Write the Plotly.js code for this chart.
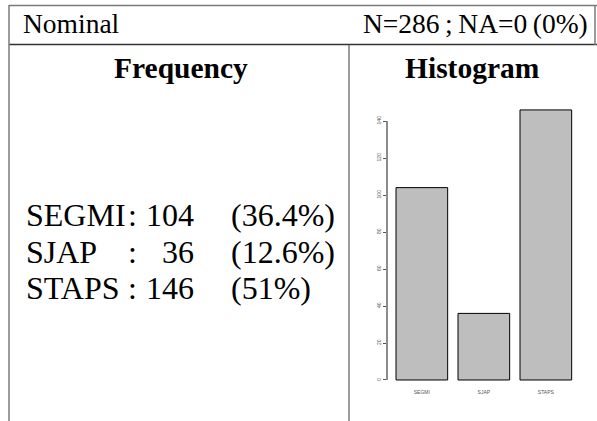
<!DOCTYPE html>
<html>
<head>
<meta charset="utf-8">
<script src="https://cdn.plot.ly/plotly-3.0.1.min.js"></script>
<style>html,body{margin:0;padding:0;background:#fff}#chart{width:597px;height:421px}</style>
</head>
<body>
<div id="chart"></div>
<script>
const categories = ["SEGMI", "SJAP", "STAPS"];
const counts = [104, 36, 146];
const pctLabels = ["(36.4%)", "(12.6%)", "(51%)"];
const yTicks = [0, 20, 40, 60, 80, 100, 120, 140];
const headerLeft = "Nominal";
const headerRight = "N=286\u2009;\u2009NA=0\u2009(0%)";
const colTitles = ["Frequency", "Histogram"];

const W = 597, H = 421;
const px = x => x / W;
const py = y => 1 - y / H;
const serif = "Liberation Serif";
const sans = "Liberation Sans";

const lineGrey = {color: "#7a7a7a", width: 1.5};
const shapes = [
  {type: "line", xref: "paper", yref: "paper", x0: px(9), x1: px(597), y0: py(5.5), y1: py(5.5), line: lineGrey},
  {type: "line", xref: "paper", yref: "paper", x0: px(9), x1: px(597), y0: py(44.5), y1: py(44.5), line: {color: "#333", width: 1.5}},
  {type: "line", xref: "paper", yref: "paper", x0: px(9), x1: px(9), y0: py(5), y1: py(421), line: lineGrey},
  {type: "line", xref: "paper", yref: "paper", x0: px(595), x1: px(595), y0: py(5), y1: py(45), line: lineGrey},
  {type: "line", xref: "paper", yref: "paper", x0: px(349), x1: px(349), y0: py(45), y1: py(421), line: lineGrey},
  {type: "line", xref: "paper", yref: "y", x0: px(387), x1: px(387), y0: yTicks[0], y1: yTicks[yTicks.length - 1], line: {color: "#666", width: 1.5}}
];

const ann = [];
function t(text, x, y, size, xanchor, bold) {
  ann.push({text: bold ? "<b>" + text + "</b>" : text, xref: "paper", yref: "paper",
    x: px(x), y: py(y), xanchor: xanchor, yanchor: "middle", showarrow: false,
    font: {family: serif, size: size, color: "#000"}});
}
t(headerLeft, 21, 24, 27.5, "left");
t(headerRight, 590, 24, 27.5, "right");
t(colTitles[0], 181, 68, 29.5, "center", true);
t(colTitles[1], 472, 68, 29.5, "center", true);
const rowY = [215, 251.5, 288];
categories.forEach((c, i) => {
  t(c, 24, rowY[i], 32, "left");
  t(":", 132, rowY[i], 32, "center");
  t(String(counts[i]), 196, rowY[i], 32, "right");
  t(pctLabels[i], 229, rowY[i], 32, "left");
});

const trace = {
  type: "bar", x: categories, y: counts,
  marker: {color: "#bebebe", line: {color: "#000", width: 1}},
  hoverinfo: "none"
};

const layout = {
  width: W, height: H,
  margin: {l: 0, r: 0, t: 0, b: 0},
  paper_bgcolor: "#fff", plot_bgcolor: "#fff",
  showlegend: false,
  bargap: 1 / 6,
  xaxis: {
    domain: [px(387), px(579)], range: [-0.562, 2.535],
    type: "category", showgrid: false, zeroline: false, showline: false,
    ticks: "", ticklabelstandoff: -3,
    tickfont: {family: sans, size: 5, color: "#555"},
    fixedrange: true
  },
  yaxis: {
    domain: [py(391), py(99)], range: [-5.95, 151.9],
    tickvals: yTicks, ticktext: yTicks.map(String), tickangle: -90,
    showgrid: false, zeroline: false, showline: false,
    ticks: "outside", ticklen: 3, tickwidth: 1, tickcolor: "#555",
    tickfont: {family: sans, size: 5, color: "#555"},
    fixedrange: true
  },
  shapes: shapes,
  annotations: ann
};

Plotly.newPlot("chart", [trace], layout, {displayModeBar: false, staticPlot: true});
</script>
</body>
</html>
